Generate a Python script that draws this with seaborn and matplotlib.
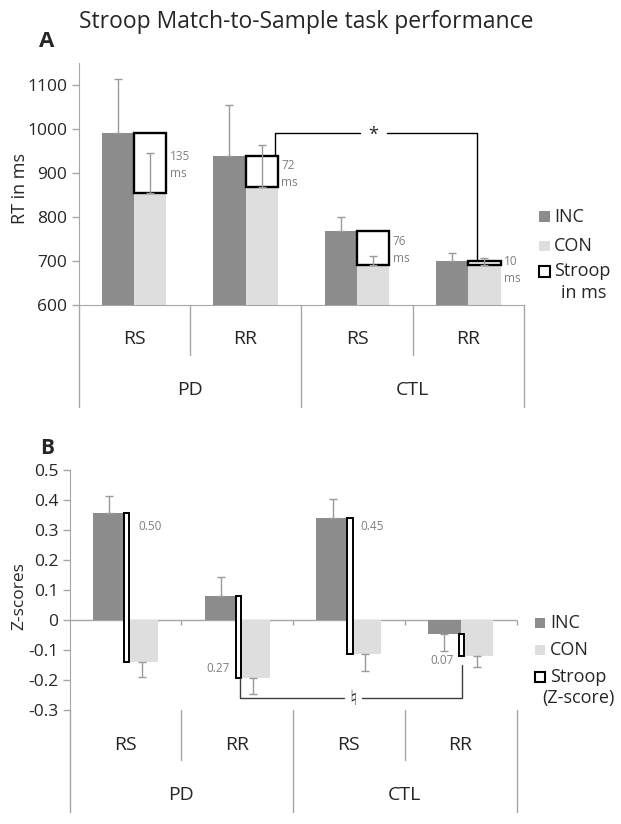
import matplotlib
matplotlib.use("Agg")
import matplotlib.pyplot as plt
from matplotlib.patches import Rectangle
import seaborn as sns
import pandas as pd
import numpy as np

# ---- data ----
groups = ["PD", "CTL"]
conditions = ["RS", "RR", "RS", "RR"]
cells = ["PD-RS", "PD-RR", "CTL-RS", "CTL-RR"]

rt_inc = [990, 939, 767, 700]
rt_con = [855, 867, 691, 690]
rt_inc_err = [122, 116, 33, 19]
rt_con_err = [89, 96, 21, 16]
rt_stroop_labels = ["135\nms", "72\nms", "76\nms", "10\nms"]

z_inc = [0.358, 0.078, 0.338, -0.049]
z_con = [-0.142, -0.195, -0.114, -0.120]
z_inc_err = [0.054, 0.064, 0.064, 0.057]
z_con_err = [0.050, 0.052, 0.056, 0.038]
z_stroop_labels = ["0.50", "0.27", "0.45", "0.07"]

INC_COL = "#8c8c8c"
CON_COL = "#dedede"
AX_COL = "#a6a6a6"
ERR_COL = "#9a9a9a"
LBL_COL = "#7f7f7f"

sns.set_style("white")
plt.rcParams["font.family"] = ["Open Sans", "DejaVu Sans"]

W, H = 621, 824
fig = plt.figure(figsize=(W / 100, H / 100), dpi=100)


def px_rect(left, top, right, bottom):
    return [left / W, 1 - bottom / H, (right - left) / W, (bottom - top) / H]


def long_df(inc, con):
    return pd.DataFrame({
        "cell": cells * 2,
        "cond": ["INC"] * 4 + ["CON"] * 4,
        "value": list(inc) + list(con),
    })


def style_axis(ax, top, bottom, inner_px, outer_px, row1_px, row2_px):
    def ay(ypx):
        return (bottom - ypx) / (bottom - top)
    tr = ax.get_xaxis_transform()
    for x in [-0.5, 1.5, 3.5]:
        ax.plot([x, x], [0, ay(outer_px)], color=AX_COL, lw=1, transform=tr, clip_on=False)
    for x in [0.5, 2.5]:
        ax.plot([x, x], [0, ay(inner_px)], color=AX_COL, lw=1, transform=tr, clip_on=False)
    for i, c in enumerate(conditions):
        ax.text(i, ay(row1_px), c, transform=tr, ha="center", va="center", fontsize=14)
    for j, g in enumerate(groups):
        ax.text(2 * j + 0.5, ay(row2_px), g, transform=tr, ha="center", va="center", fontsize=14)
    ax.set_xlim(-0.5, 3.5)
    ax.set_xticks([])
    ax.set_xlabel("")
    ax.set_ylabel("")
    for s in ["top", "right"]:
        ax.spines[s].set_visible(False)
    ax.spines["left"].set_color(AX_COL)
    ax.tick_params(axis="y", left=True, length=5, width=1, color=AX_COL, labelsize=12.5, pad=3)


pos = np.arange(4)
off = 0.145

# ---------------- Panel A ----------------
A_top, A_bot = 62.7, 305
axA = fig.add_axes(px_rect(78.5, A_top, 524, A_bot))
sns.barplot(data=long_df(rt_inc, rt_con), x="cell", y="value", hue="cond",
            palette={"INC": INC_COL, "CON": CON_COL}, width=0.58, saturation=1,
            errorbar=None, legend=False, ax=axA, zorder=2, linewidth=0, edgecolor="none")
axA.bar(pos + off, np.array(rt_inc) - np.array(rt_con), bottom=rt_con, width=0.29,
        facecolor="white", edgecolor="black", linewidth=1.7, zorder=3)
axA.errorbar(pos - off, rt_inc, yerr=[np.zeros(4), rt_inc_err], fmt="none",
             ecolor=ERR_COL, elinewidth=1, capsize=3, zorder=4)
axA.errorbar(pos + off, rt_con, yerr=[np.zeros(4), rt_con_err], fmt="none",
             ecolor=ERR_COL, elinewidth=1, capsize=3, zorder=4)
for i, lab in enumerate(rt_stroop_labels):
    mid = (rt_inc[i] + rt_con[i]) / 2
    axA.text(i + 0.32, max(mid, rt_con[i] + 1) - (10 if i == 3 else 0) - 5, lab,
             ha="left", va="center", fontsize=8.5, color=LBL_COL, linespacing=1.4)
axA.set_ylim(600, 1150)
axA.set_yticks([600, 700, 800, 900, 1000, 1100])
axA.spines["bottom"].set_color(AX_COL)
style_axis(axA, A_top, A_bot, 355, 407, 339, 390)

# significance bracket between PD-RR and CTL-RR stroop boxes
br_y = 990
xl, xr = 1 + 0.26, 3 + 0.08
axA.plot([xl, xl, 2.03], [rt_inc[1], br_y, br_y], color="black", lw=1, zorder=5)
axA.plot([2.27, xr, xr], [br_y, br_y, rt_inc[3]], color="black", lw=1, zorder=5)
axA.text(2.15, br_y - 4, "*", ha="center", va="center", fontsize=13)

# ---------------- Panel B ----------------
B_top, B_bot = 470, 709.5
axB = fig.add_axes(px_rect(69.5, B_top, 516.5, B_bot))
sns.barplot(data=long_df(z_inc, z_con), x="cell", y="value", hue="cond",
            palette={"INC": INC_COL, "CON": CON_COL}, width=0.58, saturation=1,
            errorbar=None, legend=False, ax=axB, zorder=2, linewidth=0, edgecolor="none")
axB.bar(pos + 0.01, np.array(z_inc) - np.array(z_con), bottom=z_con, width=0.045,
        facecolor="white", edgecolor="black", linewidth=1.4, zorder=3)
zi = np.array(z_inc)
zc = np.array(z_con)
axB.errorbar(pos - off, z_inc,
             yerr=[np.where(zi < 0, z_inc_err, 0), np.where(zi >= 0, z_inc_err, 0)],
             fmt="none", ecolor=ERR_COL, elinewidth=1, capsize=3, zorder=4)
axB.errorbar(pos + off, z_con,
             yerr=[np.where(zc < 0, z_con_err, 0), np.where(zc >= 0, z_con_err, 0)],
             fmt="none", ecolor=ERR_COL, elinewidth=1, capsize=3, zorder=4)
lab_pos = [(0.22, 0.31), (0.826, -0.164), (2.204, 0.31), (2.836, -0.137)]
for (x, y), lab in zip(lab_pos, z_stroop_labels):
    axB.text(x, y, lab, ha="center", va="center", fontsize=8.5, color=LBL_COL)
axB.axhline(0, color=AX_COL, lw=1, zorder=1)
axB.vlines([0.5, 1.5, 2.5, 3.5], -0.017, 0, color=AX_COL, lw=1, clip_on=False)
axB.set_ylim(-0.3, 0.5)
axB.set_yticks([-0.3, -0.2, -0.1, 0, 0.1, 0.2, 0.3, 0.4, 0.5])
axB.set_yticklabels(["-0.3", "-0.2", "-0.1", "0", "0.1", "0.2", "0.3", "0.4", "0.5"])
axB.spines["bottom"].set_visible(False)
style_axis(axB, B_top, B_bot, 760, 811.7, 745, 795)

# bracket between PD-RR and CTL-RR stroop bars
bb = -0.261
axB.plot([1.03, 1.03, 1.96], [z_con[1], bb, bb], color="#404040", lw=1, zorder=5, clip_on=False)
axB.plot([2.12, 3.01, 3.01], [bb, bb, -0.153], color="#404040", lw=1, zorder=5, clip_on=False)
axB.text(2.04, bb - 0.004, "\u266e", ha="center", va="center", fontsize=15, color="#303030",
         family=["DejaVu Sans"], zorder=6, clip_on=False)

# ---------------- overlay: titles, labels, legends ----------------
ov = fig.add_axes([0, 0, 1, 1])
ov.set_xlim(0, W)
ov.set_ylim(H, 0)
ov.axis("off")
ov.patch.set_alpha(0)

ov.text(306, 22, "Stroop Match-to-Sample task performance", ha="center", va="center", fontsize=16.5)
ov.text(47, 41.5, "A", ha="center", va="center", fontsize=16, fontweight="bold")
ov.text(47, 448, "B", ha="center", va="center", fontsize=15, fontweight="bold")
ov.text(20, 188, "RT in ms", rotation=90, ha="center", va="center", fontsize=13)
ov.text(19, 596, "Z-scores", rotation=90, ha="center", va="center", fontsize=12.5)


def legend_block(x0, sq, ys, texts, x_text, extra):
    for y, (kind, txt) in zip(ys, texts):
        if kind == "box":
            ov.add_patch(Rectangle((x0 + 1, y - sq / 2 + 1), sq, sq, facecolor="#b0b0b0",
                                   edgecolor="none"))
            ov.add_patch(Rectangle((x0, y - sq / 2), sq, sq, facecolor="white",
                                   edgecolor="black", lw=1.5))
        else:
            ov.add_patch(Rectangle((x0, y - sq / 2), sq, sq, facecolor=kind, edgecolor="none"))
        ov.text(x_text, y, txt, ha="left", va="center", fontsize=13)
    ex, ey, etxt = extra
    ov.text(ex, ey, etxt, ha="left", va="center", fontsize=13)


legend_block(539, 10.5, [216.7, 246, 271.5],
             [(INC_COL, "INC"), (CON_COL, "CON"), ("box", "Stroop")], 554, (561, 293, "in ms"))
legend_block(535, 10, [623, 650, 677],
             [(INC_COL, "INC"), (CON_COL, "CON"), ("box", "Stroop")], 550, (542, 698, "(Z-score)"))

fig.savefig("out.png", dpi=100)
